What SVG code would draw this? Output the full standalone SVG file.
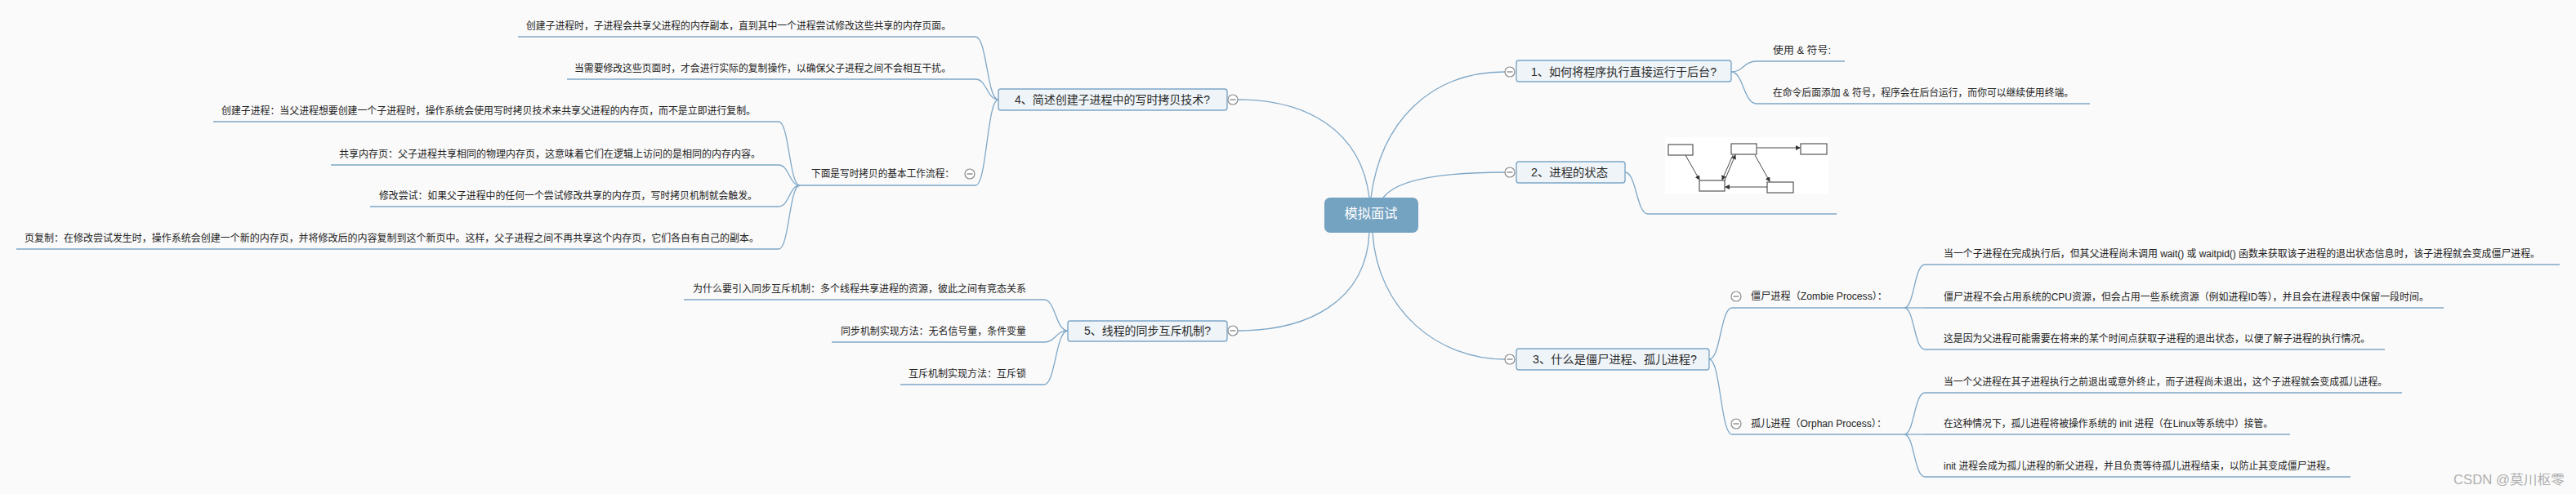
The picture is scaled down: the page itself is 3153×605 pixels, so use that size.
<svg xmlns="http://www.w3.org/2000/svg" width="3153" height="605" viewBox="0 0 3153 605">
<style>
.t{font-family:"Liberation Sans","Noto Sans CJK SC",sans-serif;font-size:12px;fill:#222}
.h{font-size:14px;fill:#2a2a2a}
.c{fill:none;stroke:#7ea7c7;stroke-width:1.3}
.u{stroke:#7ea7c7;stroke-width:1.6}
.box{fill:#eef4f8;stroke:#7ea7c7;stroke-width:1.4}
.sb{fill:#fff;stroke:#555;stroke-width:1.2}
.sa{stroke:#333;stroke-width:0.9;fill:none}
</style>
<defs>
<g id="tg"><circle r="6" fill="#fff" stroke="#8a8a8a" stroke-width="1.2"/><line x1="-3.5" y1="0" x2="3.5" y2="0" stroke="#777" stroke-width="1.2"/></g>
<marker id="ar" markerWidth="6" markerHeight="6" refX="5" refY="3" orient="auto" markerUnits="userSpaceOnUse"><path d="M0,0 L6,3 L0,6 z" fill="#333"/></marker>
</defs>
<rect width="3153" height="605" fill="#fafafa"/>

<g id="connectors">
<path class="c" d="M1678,242 C1690,150 1750,88 1842,88"/>
<path class="c" d="M1693,242 C1712,216 1780,211 1842,211"/>
<path class="c" d="M1676,242 C1666,160 1600,122 1515,122"/>
<path class="c" d="M1676,285 C1672,370 1600,405 1515,405"/>
<path class="c" d="M1680,285 C1686,380 1760,440 1842,440"/>
<path class="c" d="M1222,122 C1208,122 1208,45 1194,45"/>
<path class="c" d="M1222,122 C1208,122 1208,97 1194,97"/>
<path class="c" d="M1222,122 C1208,122 1208,227 1194,227"/>
<path class="c" d="M979,227 C966,227 966,149 953,149"/>
<path class="c" d="M979,227 C966,227 966,202 953,202"/>
<path class="c" d="M979,227 C966,227 966,253 953,253"/>
<path class="c" d="M979,227 C966,227 966,305 953,305"/>
<path class="c" d="M1307,405 C1292,405 1292,367 1278,367"/>
<path class="c" d="M1307,405 C1292,405 1292,419 1278,419"/>
<path class="c" d="M1307,405 C1292,405 1292,471 1278,471"/>
<path class="c" d="M2119,88 C2134,88 2134,75 2150,75"/>
<path class="c" d="M2119,88 C2134,88 2134,127 2150,127"/>
<path class="c" d="M1989,211 C2003,211 2003,262 2017,262"/>
<path class="c" d="M2092,440 C2106,440 2106,377 2120,377"/>
<path class="c" d="M2092,440 C2106,440 2106,532 2120,532"/>
<path class="c" d="M2331,377 C2343,377 2343,324 2356,324"/>
<path class="c" d="M2331,377 L2356,377"/>
<path class="c" d="M2331,377 C2343,377 2343,428 2356,428"/>
<path class="c" d="M2331,532 C2343,532 2343,481 2356,481"/>
<path class="c" d="M2331,532 L2356,532"/>
<path class="c" d="M2331,532 C2343,532 2343,584 2356,584"/>
</g>

<g id="root">
<rect x="1621" y="242" width="115" height="43" rx="7" fill="#74a2c1"/>
<text class="t" x="1678" y="267" text-anchor="middle" style="font-size:16px;fill:#fff" textLength="65" lengthAdjust="spacingAndGlyphs">模拟面试</text>
</g>

<g id="node1">
<rect class="box" x="1856" y="74" width="263" height="26" rx="3"/>
<text class="t h" x="1874" y="93" textLength="227" lengthAdjust="spacingAndGlyphs">1、如何将程序执行直接运行于后台?</text>
<use href="#tg" x="1848" y="88"/>
</g>
<g id="node1-a">
<text class="t" x="2170" y="66" textLength="71" lengthAdjust="spacingAndGlyphs">使用 &amp; 符号:</text>
<line class="u" x1="2150" y1="75" x2="2258" y2="75"/>
</g>
<g id="node1-b">
<text class="t" x="2170" y="118" textLength="368" lengthAdjust="spacingAndGlyphs">在命令后面添加 &amp; 符号，程序会在后台运行，而你可以继续使用终端。</text>
<line class="u" x1="2150" y1="127" x2="2558" y2="127"/>
</g>

<g id="node2">
<rect class="box" x="1856" y="198" width="133" height="26" rx="3"/>
<text class="t h" x="1874" y="216" textLength="94" lengthAdjust="spacingAndGlyphs">2、进程的状态</text>
<use href="#tg" x="1848" y="211"/>
</g>
<g id="node2-image">
<rect x="2038" y="168" width="200" height="69" fill="#fff"/>
<rect class="sb" x="2042" y="177" width="30" height="13"/>
<rect class="sb" x="2119" y="176" width="31" height="13"/>
<rect class="sb" x="2204" y="176" width="32" height="13"/>
<rect class="sb" x="2080" y="221" width="31" height="13"/>
<rect class="sb" x="2163" y="223" width="32" height="13"/>
<path class="sa" d="M2063,190 L2080,220" marker-end="url(#ar)"/>
<path class="sa" d="M2151,181 L2203,181" stroke-width="2" marker-end="url(#ar)"/>
<path class="sa" d="M2121,190 L2108,220" marker-end="url(#ar)"/>
<path class="sa" d="M2111,221 L2124,190" marker-end="url(#ar)"/>
<path class="sa" d="M2148,190 L2166,222" marker-end="url(#ar)"/>
<path class="sa" d="M2163,229 L2112,229" stroke-width="1.4" marker-end="url(#ar)"/>
<line class="u" x1="2017" y1="262" x2="2248" y2="262"/>
</g>

<g id="node3">
<rect class="box" x="1856" y="427" width="236" height="26" rx="3"/>
<text class="t h" x="1876" y="445" textLength="201" lengthAdjust="spacingAndGlyphs">3、什么是僵尸进程、孤儿进程?</text>
<use href="#tg" x="1848" y="440"/>
</g>
<g id="zombie">
<use href="#tg" x="2125" y="363"/>
<text class="t" x="2143" y="367" textLength="167" lengthAdjust="spacingAndGlyphs">僵尸进程（Zombie Process）：</text>
<line class="u" x1="2120" y1="377" x2="2331" y2="377"/>
</g>
<g id="zombie-1">
<text class="t" x="2379" y="315" textLength="730" lengthAdjust="spacingAndGlyphs">当一个子进程在完成执行后，但其父进程尚未调用 wait() 或 waitpid() 函数来获取该子进程的退出状态信息时，该子进程就会变成僵尸进程。</text>
<line class="u" x1="2356" y1="324" x2="3133" y2="324"/>
</g>
<g id="zombie-2">
<text class="t" x="2379" y="368" textLength="594" lengthAdjust="spacingAndGlyphs">僵尸进程不会占用系统的CPU资源，但会占用一些系统资源（例如进程ID等），并且会在进程表中保留一段时间。</text>
<line class="u" x1="2356" y1="377" x2="2991" y2="377"/>
</g>
<g id="zombie-3">
<text class="t" x="2379" y="419" textLength="522" lengthAdjust="spacingAndGlyphs">这是因为父进程可能需要在将来的某个时间点获取子进程的退出状态，以便了解子进程的执行情况。</text>
<line class="u" x1="2356" y1="428" x2="2919" y2="428"/>
</g>
<g id="orphan">
<use href="#tg" x="2125" y="519"/>
<text class="t" x="2143" y="523" textLength="166" lengthAdjust="spacingAndGlyphs">孤儿进程（Orphan Process）：</text>
<line class="u" x1="2120" y1="532" x2="2331" y2="532"/>
</g>
<g id="orphan-1">
<text class="t" x="2379" y="472" textLength="543" lengthAdjust="spacingAndGlyphs">当一个父进程在其子进程执行之前退出或意外终止，而子进程尚未退出，这个子进程就会变成孤儿进程。</text>
<line class="u" x1="2356" y1="481" x2="2940" y2="481"/>
</g>
<g id="orphan-2">
<text class="t" x="2379" y="523" textLength="403" lengthAdjust="spacingAndGlyphs">在这种情况下，孤儿进程将被操作系统的 init 进程（在Linux等系统中）接管。</text>
<line class="u" x1="2356" y1="532" x2="2803" y2="532"/>
</g>
<g id="orphan-3">
<text class="t" x="2379" y="575" textLength="480" lengthAdjust="spacingAndGlyphs">init 进程会成为孤儿进程的新父进程，并且负责等待孤儿进程结束，以防止其变成僵尸进程。</text>
<line class="u" x1="2356" y1="584" x2="2877" y2="584"/>
</g>

<g id="node4">
<rect class="box" x="1222" y="109" width="280" height="26" rx="3"/>
<text class="t h" x="1242" y="127" textLength="239" lengthAdjust="spacingAndGlyphs">4、简述创建子进程中的写时拷贝技术?</text>
<use href="#tg" x="1509" y="122"/>
</g>
<g id="node4-a1">
<text class="t" x="1164" y="36" text-anchor="end" textLength="520" lengthAdjust="spacingAndGlyphs">创建子进程时，子进程会共享父进程的内存副本，直到其中一个进程尝试修改这些共享的内存页面。</text>
<line class="u" x1="634" y1="45" x2="1194" y2="45"/>
</g>
<g id="node4-a2">
<text class="t" x="1164" y="88" text-anchor="end" textLength="461" lengthAdjust="spacingAndGlyphs">当需要修改这些页面时，才会进行实际的复制操作，以确保父子进程之间不会相互干扰。</text>
<line class="u" x1="694" y1="97" x2="1194" y2="97"/>
</g>
<g id="node4-flow">
<text class="t" x="993" y="217" textLength="175" lengthAdjust="spacingAndGlyphs">下面是写时拷贝的基本工作流程：</text>
<use href="#tg" x="1187" y="213"/>
<line class="u" x1="979" y1="227" x2="1194" y2="227"/>
</g>
<g id="flow-1">
<text class="t" x="925" y="140" text-anchor="end" textLength="654" lengthAdjust="spacingAndGlyphs">创建子进程：当父进程想要创建一个子进程时，操作系统会使用写时拷贝技术来共享父进程的内存页，而不是立即进行复制。</text>
<line class="u" x1="261" y1="149" x2="953" y2="149"/>
</g>
<g id="flow-2">
<text class="t" x="931" y="193" text-anchor="end" textLength="516" lengthAdjust="spacingAndGlyphs">共享内存页：父子进程共享相同的物理内存页，这意味着它们在逻辑上访问的是相同的内存内容。</text>
<line class="u" x1="405" y1="202" x2="953" y2="202"/>
</g>
<g id="flow-3">
<text class="t" x="927" y="244" text-anchor="end" textLength="463" lengthAdjust="spacingAndGlyphs">修改尝试：如果父子进程中的任何一个尝试修改共享的内存页，写时拷贝机制就会触发。</text>
<line class="u" x1="453" y1="253" x2="953" y2="253"/>
</g>
<g id="flow-4">
<text class="t" x="929" y="296" text-anchor="end" textLength="899" lengthAdjust="spacingAndGlyphs">页复制：在修改尝试发生时，操作系统会创建一个新的内存页，并将修改后的内容复制到这个新页中。这样，父子进程之间不再共享这个内存页，它们各自有自己的副本。</text>
<line class="u" x1="20" y1="305" x2="953" y2="305"/>
</g>

<g id="node5">
<rect class="box" x="1307" y="393" width="195" height="25" rx="3"/>
<text class="t h" x="1327" y="410" textLength="155" lengthAdjust="spacingAndGlyphs">5、线程的同步互斥机制?</text>
<use href="#tg" x="1509" y="405"/>
</g>
<g id="node5-1">
<text class="t" x="1256" y="358" text-anchor="end" textLength="408" lengthAdjust="spacingAndGlyphs">为什么要引入同步互斥机制：多个线程共享进程的资源，彼此之间有竞态关系</text>
<line class="u" x1="837" y1="367" x2="1278" y2="367"/>
</g>
<g id="node5-2">
<text class="t" x="1256" y="410" text-anchor="end" textLength="227" lengthAdjust="spacingAndGlyphs">同步机制实现方法：无名信号量，条件变量</text>
<line class="u" x1="1018" y1="419" x2="1278" y2="419"/>
</g>
<g id="node5-3">
<text class="t" x="1256" y="462" text-anchor="end" textLength="144" lengthAdjust="spacingAndGlyphs">互斥机制实现方法：互斥锁</text>
<line class="u" x1="1102" y1="471" x2="1278" y2="471"/>
</g>

<text class="t" x="3003" y="593" style="font-size:16px;fill:#b0b0b0" textLength="136" lengthAdjust="spacingAndGlyphs">CSDN @莫川枢零</text>
</svg>
